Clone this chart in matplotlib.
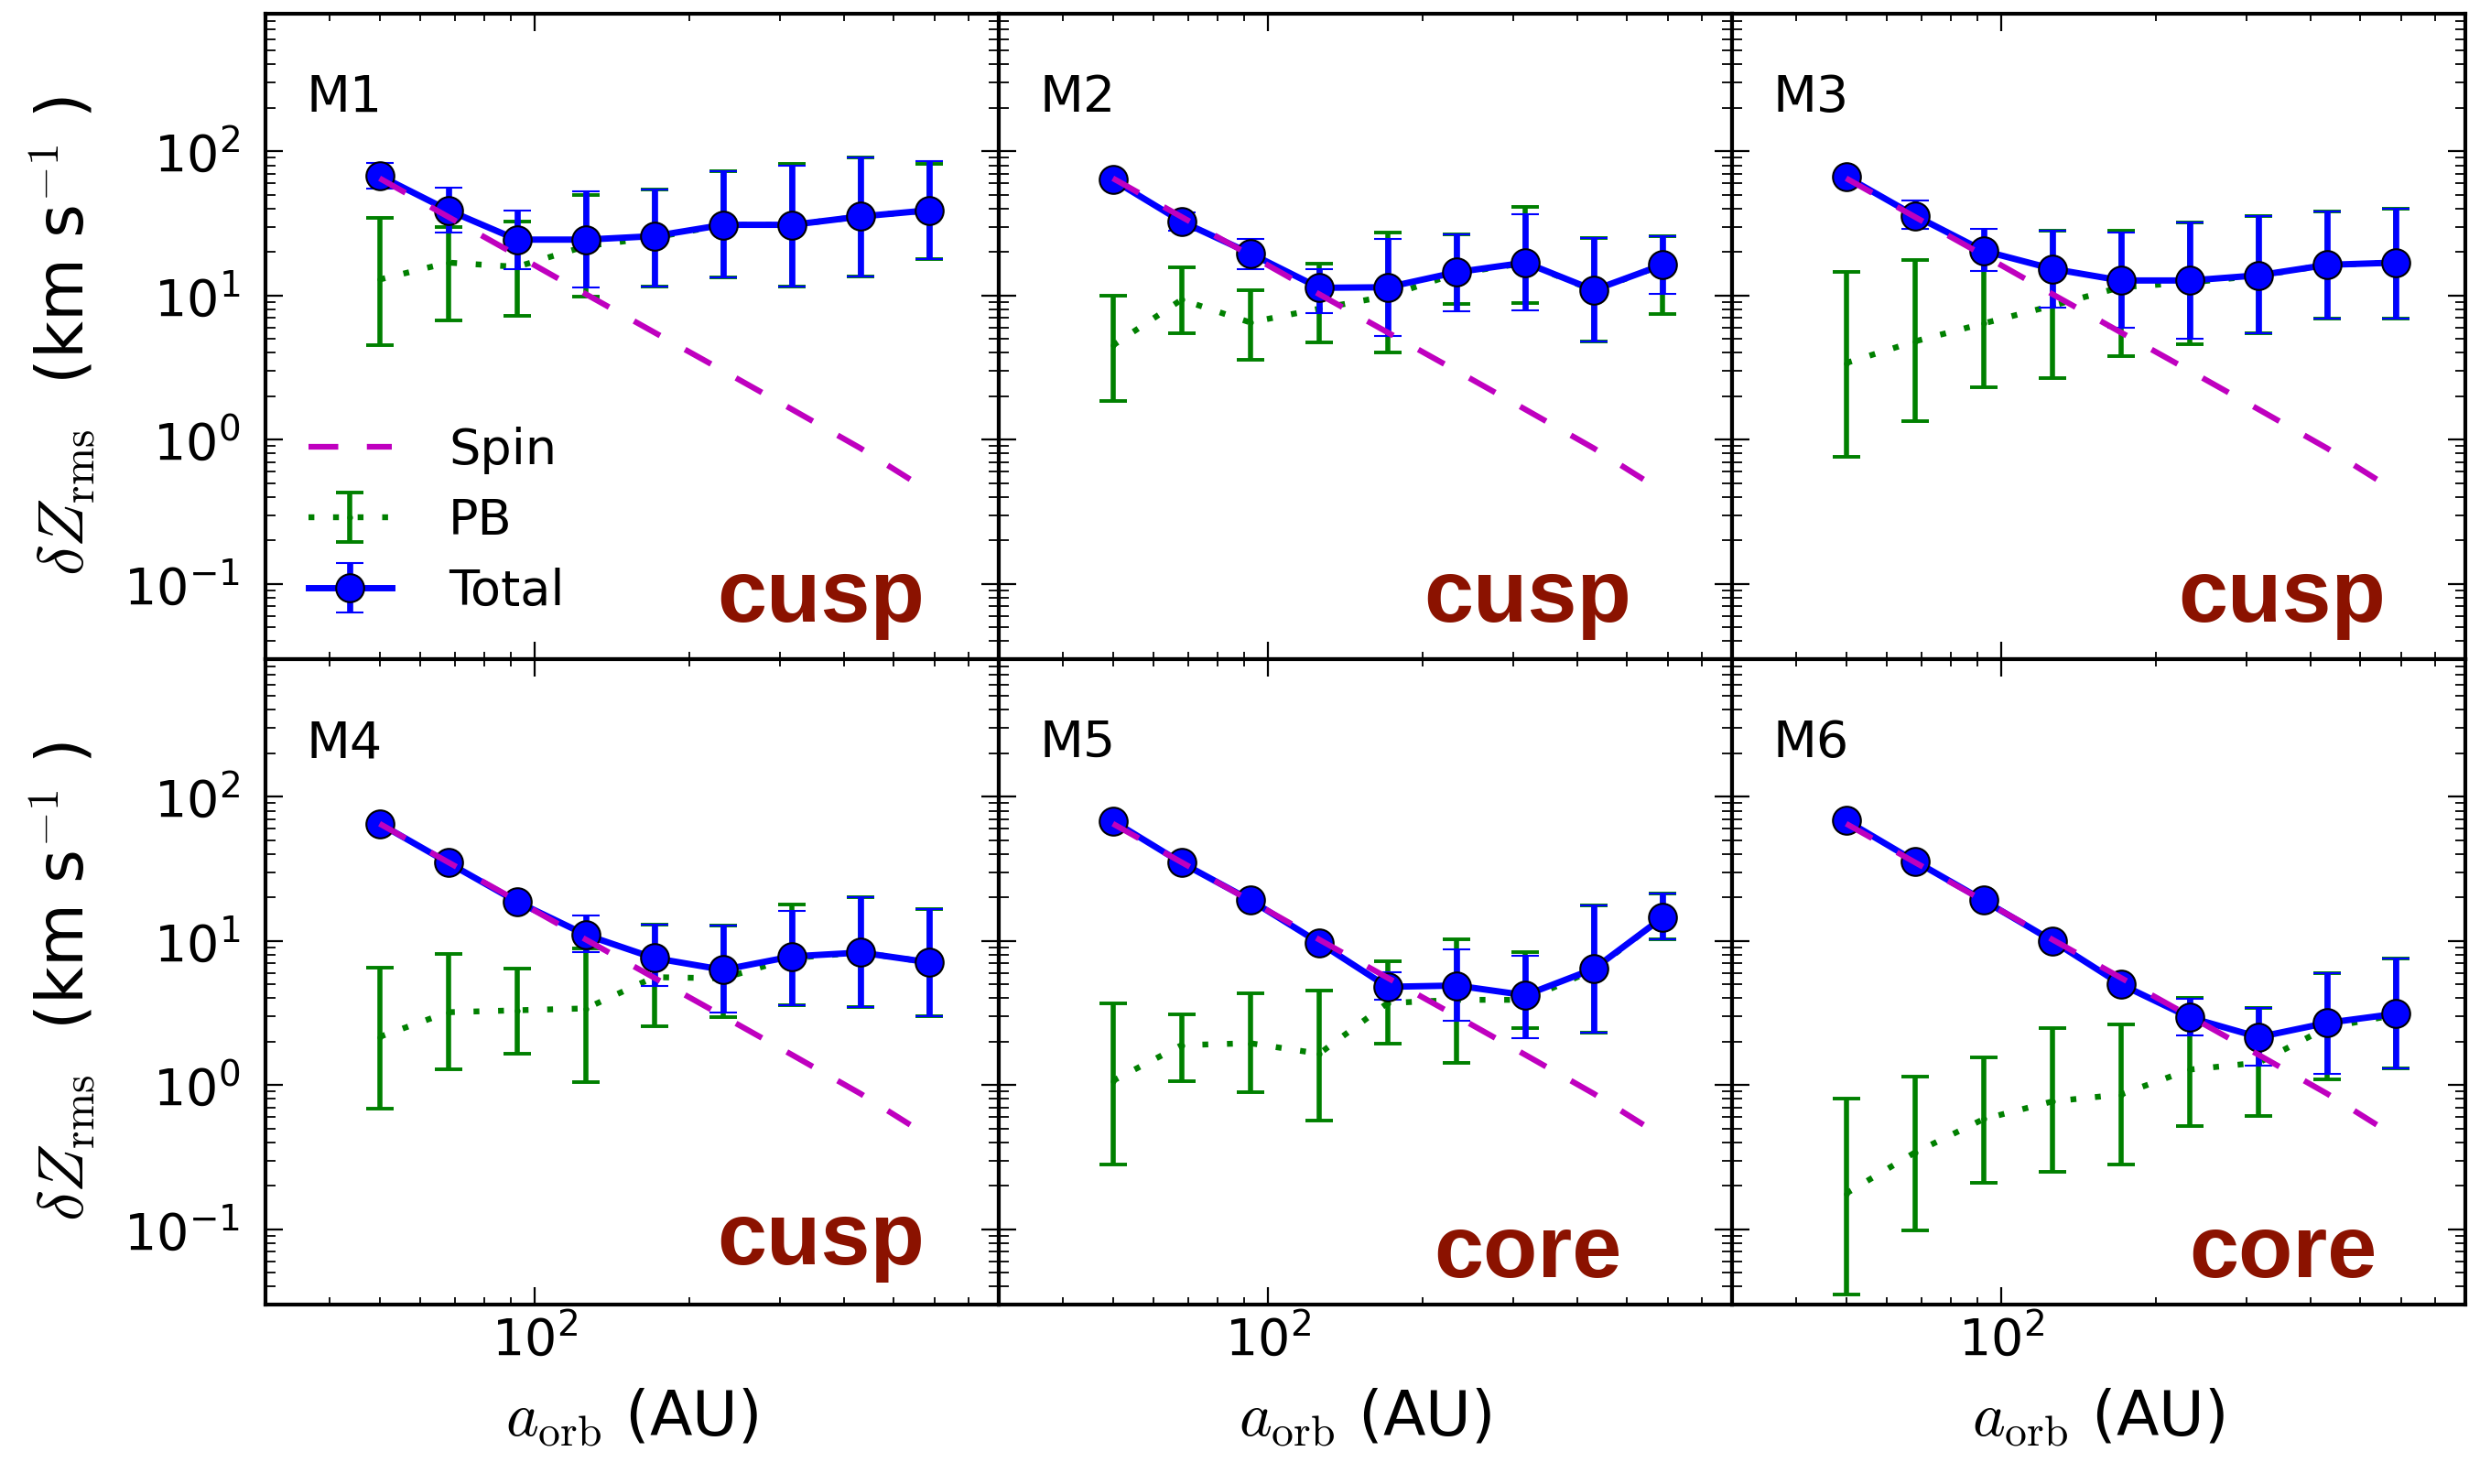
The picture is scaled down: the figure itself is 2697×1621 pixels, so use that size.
import numpy as np
import matplotlib
matplotlib.use("Agg")
import matplotlib.pyplot as plt
from matplotlib.ticker import LogLocator, NullFormatter

plt.rcParams['font.family'] = ['DejaVu Sans']
plt.rcParams['mathtext.fontset'] = 'cm'
plt.rcParams['axes.unicode_minus'] = False

# ---------------- data ----------------
a_orb = [50, 68, 92.5, 126, 171, 233, 317, 431, 586]
spin_x = [50, 68, 92.5, 126, 171, 233, 317, 431, 538]
spin_y = [65, 35.1, 19.0, 10.2, 5.55, 3.0, 1.62, 0.87, 0.53]

model_names = ["M1", "M2", "M3", "M4", "M5", "M6"]
profile_labels = ["cusp", "cusp", "cusp", "cusp", "core", "core"]

total_M1 = [67.8, 39, 24.4, 24.4, 25.8, 30.9, 30.9, 35.3, 39]
total_lo_M1 = [55.4, 27.4, 15.3, 11.3, 11.5, 13.4, 11.6, 13.6, 17.8]
total_hi_M1 = [83.4, 55.8, 38.6, 52.8, 54.6, 72.5, 80, 90.4, 85.7]
pb_M1 = [12.9, 16.9, 15.8, 22, 25.2, 30.8, 30.9, 35.3, 39]
pb_lo_M1 = [4.5, 6.7, 7.2, 9.8, 11.5, 13.4, 11.6, 13.6, 17.8]
pb_hi_M1 = [34.6, 30, 32.6, 50, 54.6, 72.5, 82, 90.4, 82]

total_M2 = [63.4, 32.6, 19.6, 11.3, 11.4, 14.5, 16.9, 10.9, 16.3]
total_lo_M2 = [60, 28.3, 15.3, 7.5, 5.2, 7.8, 7.9, 4.8, 10.2]
total_hi_M2 = [67, 37.8, 24.8, 15.3, 24.5, 26.6, 36.6, 24.9, 25.6]
pb_M2 = [4.5, 9.35, 6.5, 8.1, 9.9, 14.2, 16.8, 10.8, 16.3]
pb_lo_M2 = [1.84, 5.5, 3.6, 4.7, 4.0, 8.7, 8.9, 4.8, 7.4]
pb_hi_M2 = [9.9, 15.6, 10.8, 16.6, 27.4, 26.6, 41, 24.9, 25.6]

total_M3 = [66.8, 35.8, 20.4, 15.3, 12.7, 12.7, 13.8, 16.3, 16.9]
total_lo_M3 = [63, 28.9, 14.8, 8.2, 6.0, 5.0, 5.5, 6.9, 6.9]
total_hi_M3 = [71, 45.3, 28.9, 28.3, 27.5, 31.9, 35.4, 38.3, 40]
pb_M3 = [3.4, 4.8, 6.4, 8.5, 11.4, 12.3, 13.7, 16.3, 16.9]
pb_lo_M3 = [0.76, 1.34, 2.3, 2.67, 3.8, 4.6, 5.5, 6.9, 6.9]
pb_hi_M3 = [14.6, 17.7, 22, 28, 28.3, 31.9, 35.4, 38.3, 40]

total_M4 = [65.1, 34.8, 18.7, 11.0, 7.6, 6.3, 7.8, 8.3, 7.1]
total_lo_M4 = [62, 33, 17.7, 8.3, 4.9, 3.2, 3.6, 3.5, 3.0]
total_hi_M4 = [68, 36.5, 19.7, 14.9, 12.9, 12.7, 16.2, 20.1, 16.5]
pb_M4 = [2.16, 3.2, 3.3, 3.4, 5.6, 5.5, 7.6, 8.3, 7.1]
pb_lo_M4 = [0.69, 1.29, 1.66, 1.05, 2.55, 2.95, 3.6, 3.5, 3.0]
pb_hi_M4 = [6.5, 8.1, 6.4, 8.8, 12.9, 12.7, 17.9, 20, 16.5]

total_M5 = [68, 34.8, 19.2, 9.7, 4.8, 4.9, 4.2, 6.4, 14.5]
total_lo_M5 = [65, 33, 18.2, 9.2, 3.9, 2.8, 2.1, 2.3, 10.3]
total_hi_M5 = [71, 36.5, 20.2, 10.2, 6.1, 8.7, 7.9, 17.5, 21.3]
pb_M5 = [1.07, 1.89, 1.95, 1.65, 3.7, 3.9, 3.9, 6.3, 14.5]
pb_lo_M5 = [0.28, 1.07, 0.89, 0.57, 1.95, 1.42, 2.5, 2.3, 10.3]
pb_hi_M5 = [3.7, 3.08, 4.35, 4.5, 7.2, 10.3, 8.4, 17.5, 21.3]

total_M6 = [68.4, 35.8, 19.1, 10, 5.0, 2.94, 2.15, 2.7, 3.12]
total_lo_M6 = [65, 34, 18.2, 9.5, 4.7, 2.22, 1.36, 1.2, 1.3]
total_hi_M6 = [72, 37.6, 20, 10.5, 5.3, 3.98, 3.45, 5.97, 7.5]
pb_M6 = [0.177, 0.34, 0.58, 0.77, 0.86, 1.28, 1.43, 2.5, 3.07]
pb_lo_M6 = [0.035, 0.098, 0.21, 0.25, 0.28, 0.52, 0.61, 1.1, 1.3]
pb_hi_M6 = [0.81, 1.15, 1.55, 2.5, 2.64, 4.05, 3.45, 6.0, 7.5]

totals = [total_M1, total_M2, total_M3, total_M4, total_M5, total_M6]
totals_lo = [total_lo_M1, total_lo_M2, total_lo_M3, total_lo_M4, total_lo_M5, total_lo_M6]
totals_hi = [total_hi_M1, total_hi_M2, total_hi_M3, total_hi_M4, total_hi_M5, total_hi_M6]
pbs = [pb_M1, pb_M2, pb_M3, pb_M4, pb_M5, pb_M6]
pbs_lo = [pb_lo_M1, pb_lo_M2, pb_lo_M3, pb_lo_M4, pb_lo_M5, pb_lo_M6]
pbs_hi = [pb_hi_M1, pb_hi_M2, pb_hi_M3, pb_hi_M4, pb_hi_M5, pb_hi_M6]

# ---------------- layout / style ----------------
label_x = [0.899, 0.863, 0.891, 0.899, 0.850, 0.880]
label_y = [0.058, 0.058, 0.058, 0.062, 0.042, 0.042]
label_color = '#8B1200'

fig, axes = plt.subplots(2, 3, figsize=(26.97, 16.21), dpi=100,
                         sharex=True, sharey=True)
fig.subplots_adjust(left=290/2697, right=2693/2697, top=1-15/1621,
                    bottom=1-1425/1621, wspace=0, hspace=0)

for i, ax in enumerate(axes.flat):
    x = np.array(a_orb)
    t = np.array(totals[i]); tlo = np.array(totals_lo[i]); thi = np.array(totals_hi[i])
    p = np.array(pbs[i]); plo = np.array(pbs_lo[i]); phi = np.array(pbs_hi[i])

    pb_c = ax.errorbar(x, p, yerr=[p - plo, phi - p], color='g', fmt='.',
                       ls=(0, (1, 3.2)), lw=4.6, ms=7, elinewidth=4,
                       capsize=11, capthick=2.8, zorder=2)
    tot_c = ax.errorbar(x, t, yerr=[t - tlo, thi - t], color='b', fmt='-o',
                        lw=5, ms=22, mfc='b', mec='k', mew=1.5,
                        elinewidth=4.8, capsize=11, capthick=3, zorder=3)
    spin_l, = ax.plot(spin_x, spin_y, color='m', ls=(0, (5.2, 5.0)), lw=4.5,
                      zorder=4)

    ax.set_xscale('log')
    ax.set_yscale('log')
    ax.set_xlim(30, 800)
    ax.set_ylim(0.03, 900)
    ax.yaxis.set_minor_locator(LogLocator(base=10, subs=np.arange(2, 10), numticks=30))
    ax.xaxis.set_minor_locator(LogLocator(base=10, subs=np.arange(2, 10), numticks=30))
    ax.xaxis.set_minor_formatter(NullFormatter())
    ax.yaxis.set_minor_formatter(NullFormatter())

    ax.tick_params(which='both', direction='in', top=True, right=True)
    ax.tick_params(axis='y', which='major', length=14, width=1.6, pad=20, labelsize=40)
    ax.tick_params(axis='y', which='minor', length=8, width=1.3)
    ax.tick_params(axis='x', which='major', length=14, width=1.6, pad=8, labelsize=40)
    ax.tick_params(axis='x', which='minor', length=6, width=1.3)
    for s in ax.spines.values():
        s.set_linewidth(3)

    ax.text(0.056, 0.848, model_names[i], transform=ax.transAxes,
            fontsize=40, ha='left', va='baseline')
    ax.text(label_x[i], label_y[i], profile_labels[i], transform=ax.transAxes,
            fontsize=70, fontweight='bold', family=['Liberation Sans', 'DejaVu Sans'],
            color=label_color, ha='right', va='baseline')

    if i == 0:
        ax.legend([spin_l, pb_c, tot_c], ['Spin', 'PB', 'Total'],
                  loc='lower left', bbox_to_anchor=(0.059, 0.068),
                  frameon=False, fontsize=39, handlelength=1.67,
                  handletextpad=1.15, labelspacing=0.46, borderpad=0,
                  borderaxespad=0, numpoints=1)

for ax in axes[:, 0]:
    ax.set_ylabel(r'$\delta Z_{\rm rms}$  (km s$^{-1}$ )', fontsize=51, labelpad=20)
for ax in axes[1, :]:
    ax.set_xlabel(r'$a_{\rm orb}$ (AU)', fontsize=49, labelpad=16)

fig.savefig('out.png', dpi=100)
